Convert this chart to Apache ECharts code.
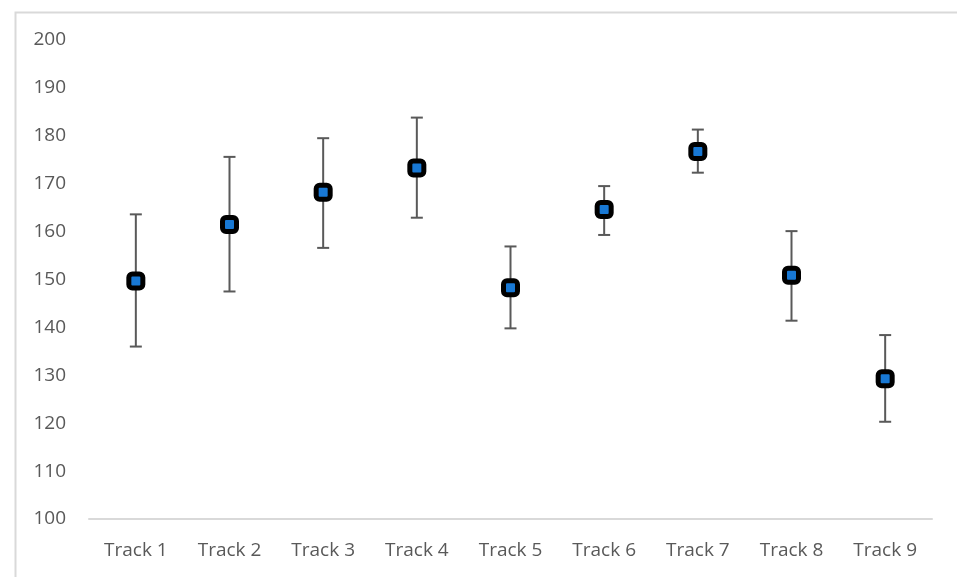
<!DOCTYPE html>
<html><head><meta charset="utf-8">
<script src="https://cdn.jsdelivr.net/npm/echarts@6/dist/echarts.min.js"></script>
<style>html,body{margin:0;padding:0;background:#fff}#c{width:957px;height:577px}</style>
</head><body><div id="c"></div>
<script>
const categories = ['Track 1','Track 2','Track 3','Track 4','Track 5','Track 6','Track 7','Track 8','Track 9'];
const means = [149.7, 161.5, 168.2, 173.3, 148.3, 164.6, 176.7, 150.9, 129.3];
const upper = [163.6, 175.6, 179.5, 183.8, 156.9, 169.5, 181.3, 160.1, 138.4];
const lower = [136.0, 147.5, 156.6, 162.9, 139.8, 159.3, 172.3, 141.4, 120.3];

const chart = echarts.init(document.getElementById('c'));
const errData = categories.map((c, i) => [i, lower[i], upper[i]]);
chart.setOption({
  animation: false,
  graphic: [{
    type: 'rect', left: 13, top: 10, shape: {x: 0, y: 0, width: 960, height: 580},
    style: {fill: 'none', stroke: '#d9d9d9', lineWidth: 2}, silent: true
  }],
  grid: {left: 89, right: 25, top: 40, bottom: 58},
  xAxis: {
    type: 'category', data: categories, boundaryGap: true,
    axisLine: {lineStyle: {color: '#d9d9d9', width: 2}},
    axisTick: {show: false},
    axisLabel: {color: '#595959', fontSize: 19, fontFamily: 'Open Sans', margin: 22}
  },
  yAxis: {
    type: 'value', min: 100, max: 200, interval: 10,
    axisLine: {show: false}, axisTick: {show: false}, splitLine: {show: false},
    axisLabel: {color: '#595959', fontSize: 19, fontFamily: 'Open Sans', margin: 23, align: 'right'}
  },
  series: [{
    type: 'custom',
    data: errData,
    encode: {x: 0, y: [1, 2]},
    renderItem: function (params, api) {
      const x = api.value(0);
      const lo = api.coord([x, api.value(1)]);
      const hi = api.coord([x, api.value(2)]);
      const hw = 6;
      const st = {stroke: '#595959', lineWidth: 2};
      return {type: 'group', children: [
        {type: 'line', shape: {x1: lo[0], y1: lo[1], x2: hi[0], y2: hi[1]}, style: st},
        {type: 'line', shape: {x1: lo[0]-hw, y1: lo[1], x2: lo[0]+hw, y2: lo[1]}, style: st},
        {type: 'line', shape: {x1: hi[0]-hw, y1: hi[1], x2: hi[0]+hw, y2: hi[1]}, style: st}
      ]};
    },
    z: 2
  }, {
    type: 'scatter',
    data: means,
    symbol: 'roundRect',
    symbolSize: 14,
    itemStyle: {color: '#1878d4', borderColor: '#000', borderWidth: 5, opacity: 1},
    z: 3
  }]
});
</script></body></html>
